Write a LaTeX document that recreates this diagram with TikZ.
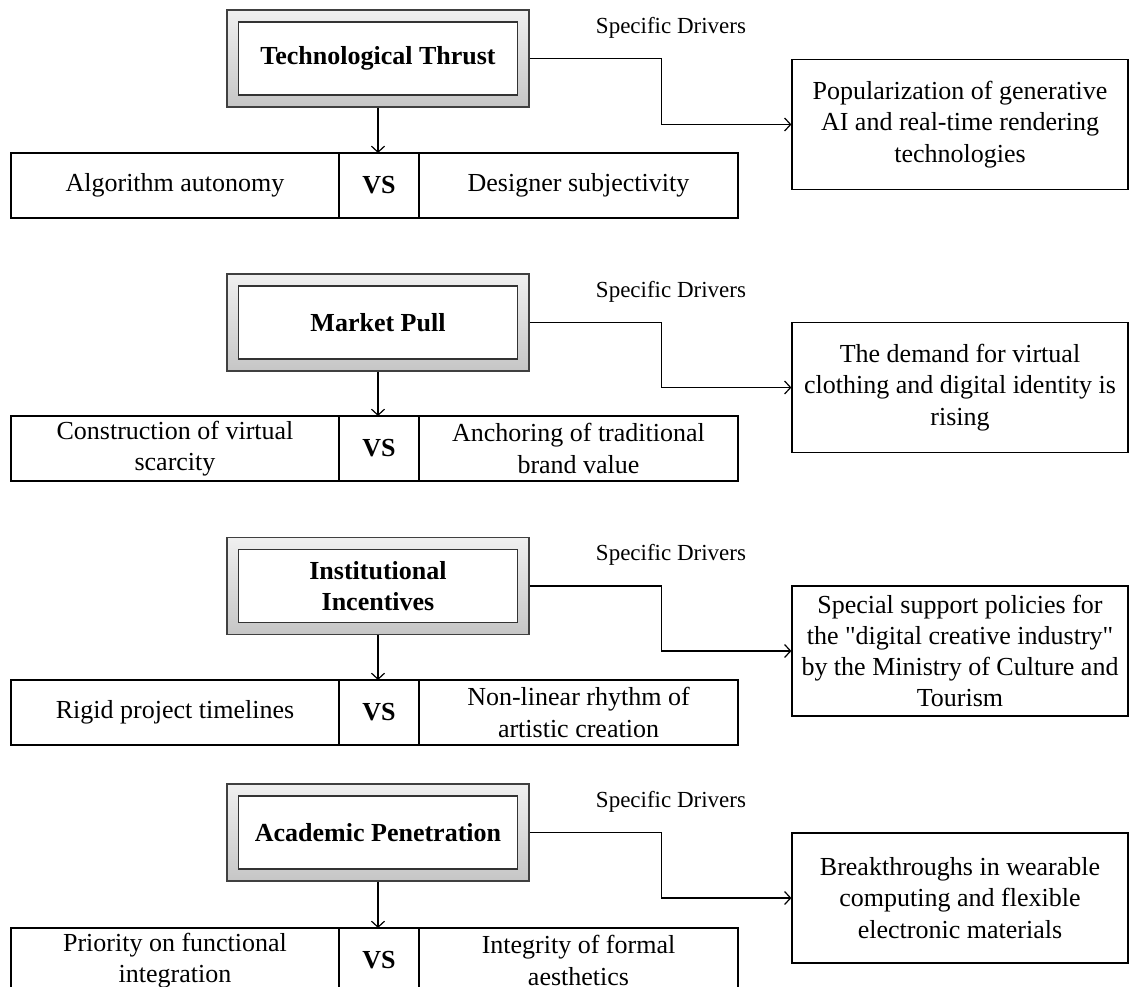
\documentclass[tikz,border=0pt]{standalone}
\usepackage{fontspec}
\setmainfont{Liberation Serif}
\usetikzlibrary{positioning,arrows.meta}

\begin{document}
\begin{tikzpicture}[x=0.5pt,y=-0.5pt,
    font=\fontsize{13}{15.6}\selectfont,
    outerbox/.style={draw=black!75, line width=0.7pt, top color=gray!12, bottom color=gray!45,
      minimum width=151pt, minimum height=48.5pt, inner sep=0pt},
    titlebox/.style={draw=black!80, fill=white, line width=0.7pt, minimum width=139.5pt,
      minimum height=36.5pt, align=center, font=\fontsize{13}{15.6}\selectfont\bfseries},
    cell/.style={draw, line width=0.6pt, minimum height=32.5pt, outer sep=0pt, inner sep=1pt, align=center},
    vscell/.style={cell, minimum width=40pt, font=\fontsize{13}{15.6}\selectfont\bfseries},
    drivers/.style={draw, line width=0.6pt, minimum width=168pt, minimum height=65pt, align=center},
    lab/.style={font=\fontsize{11.5}{13}\selectfont},
    link/.style={line width=0.6pt, -{Straight Barb[length=3pt,width=6.5pt]}}]

   \clip (0,0) rectangle (1134,986);

   % technological thrust
   \node[outerbox] (o1) at (378,58.5) {};
   \node[titlebox] (t1) at (o1) {Technological Thrust};
   \node[lab] (s1) at (671,27.5) {Specific Drivers};
   \node[drivers] (d1) at (960,124.5) {Popularization of generative\\AI and real-time rendering\\technologies};
   \node[vscell] (v1) at (379,185.5) {VS};
   \node[cell, minimum width=164pt, left=0pt of v1] (a1) {Algorithm autonomy};
   \node[cell, minimum width=159.5pt, right=0pt of v1] (b1) {Designer subjectivity};
   \draw[link] (o1.south) -- (o1.south |- v1.north);
   \draw[link] (o1.east) -- ++(132,0) |- (d1.west);

   % market pull
   \node[outerbox] (o2) at (378,322.5) {};
   \node[titlebox] (t2) at (o2) {Market Pull};
   \node[lab] (s2) at (671,292) {Specific Drivers};
   \node[drivers] (d2) at (960,387.5) {The demand for virtual\\clothing and digital identity is\\rising};
   \node[vscell] (v2) at (379,448.5) {VS};
   \node[cell, minimum width=164pt, left=0pt of v2] (a2) {Construction of virtual\\scarcity};
   \node[cell, minimum width=159.5pt, right=0pt of v2] (b2) {Anchoring of traditional\\brand value};
   \draw[link] (o2.south) -- (o2.south |- v2.north);
   \draw[link] (o2.east) -- ++(132,0) |- (d2.west);

   % institutional incentives
   \node[outerbox] (o3) at (378,586) {};
   \node[titlebox] (t3) at (o3) {Institutional\\Incentives};
   \node[lab] (s3) at (671,555) {Specific Drivers};
   \node[drivers] (d3) at (960,651) {Special support policies for\\the \textquotedbl digital creative industry\textquotedbl\\by the Ministry of Culture and\\Tourism};
   \node[vscell] (v3) at (379,712.5) {VS};
   \node[cell, minimum width=164pt, left=0pt of v3] (a3) {Rigid project timelines};
   \node[cell, minimum width=159.5pt, right=0pt of v3] (b3) {Non-linear rhythm of\\artistic creation};
   \draw[link] (o3.south) -- (o3.south |- v3.north);
   \draw[link] (o3.east) -- ++(132,0) |- (d3.west);

   % academic penetration
   \node[outerbox] (o4) at (378,832.5) {};
   \node[titlebox] (t4) at (o4) {Academic Penetration};
   \node[lab] (s4) at (671,802) {Specific Drivers};
   \node[drivers] (d4) at (960,898) {Breakthroughs in wearable\\computing and flexible\\electronic materials};
   \node[vscell] (v4) at (379,960.5) {VS};
   \node[cell, minimum width=164pt, left=0pt of v4] (a4) {Priority on functional\\integration};
   \node[cell, minimum width=159.5pt, right=0pt of v4] (b4) {Integrity of formal\\aesthetics};
   \draw[link] (o4.south) -- (o4.south |- v4.north);
   \draw[link] (o4.east) -- ++(132,0) |- (d4.west);
\end{tikzpicture}
\end{document}
